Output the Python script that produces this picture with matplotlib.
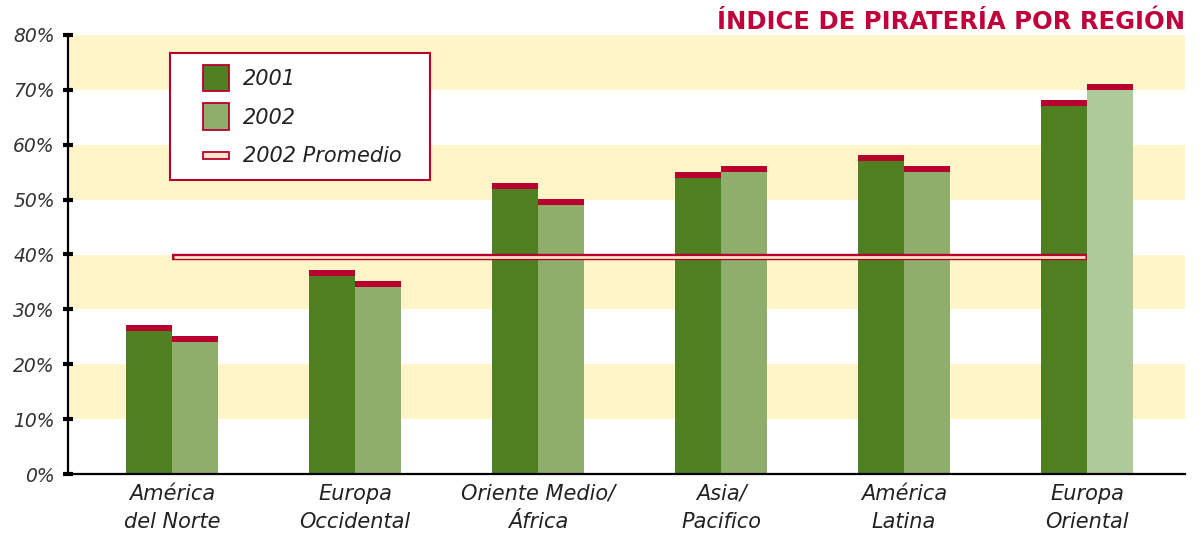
import matplotlib
matplotlib.use("Agg")
import matplotlib.pyplot as plt
import numpy as np
from matplotlib.patches import Rectangle
from matplotlib.lines import Line2D
from matplotlib.legend_handler import HandlerBase

regions = ["América\ndel Norte", "Europa\nOccidental", "Oriente Medio/\nÁfrica",
           "Asia/\nPacifico", "América\nLatina", "Europa\nOriental"]
rate_2001 = [26, 36, 52, 54, 57, 67]
rate_2002 = [24, 34, 49, 55, 55, 70]
avg_2002 = 39.6
yticks = [0, 10, 20, 30, 40, 50, 60, 70, 80]
ytick_labels = ["0%", "10%", "20%", "30%", "40%", "50%", "60%", "70%", "80%"]
title = "ÍNDICE DE PIRATERÍA POR REGIÓN"

DARK = "#4e7f20"
LIGHT = "#8fae6b"
LIGHTER = "#b0c999"
RED = "#b8002f"
BAND = "#fff5c9"
CREAM = "#fbe6c8"
CAP = 1.1

W, H = 1204, 540
fig = plt.figure(figsize=(W/100, H/100), dpi=100)
ax = fig.add_axes([68/W, 66/H, (1185-68)/W, (474-35)/H])
ax.set_xlim(-0.568, 5.535)
ax.set_ylim(0, 80)

for lo in (10, 30, 50, 70):
    ax.axhspan(lo, lo + 10, color=BAND, lw=0, zorder=0)

x = np.arange(len(regions))
w = 0.25
c2002 = [LIGHT] * (len(regions) - 1) + [LIGHTER]
ax.bar(x - w/2, rate_2001, width=w, color=DARK, zorder=2, lw=0)
ax.bar(x + w/2, rate_2002, width=w, color=c2002, zorder=2, lw=0)
ax.bar(x - w/2, [CAP]*len(x), bottom=rate_2001, width=w, color=RED, zorder=2, lw=0)
ax.bar(x + w/2, [CAP]*len(x), bottom=rate_2002, width=w, color=RED, zorder=2, lw=0)

ax.plot([x[0], x[-1]], [avg_2002, avg_2002], color=RED, lw=4.6, solid_capstyle="butt", zorder=3)
ax.plot([x[0] + 0.01, x[-1] - 0.01], [avg_2002, avg_2002], color=CREAM, lw=2.0, solid_capstyle="butt", zorder=4)

for s in ("top", "right"):
    ax.spines[s].set_visible(False)
ax.spines["left"].set_linewidth(1.6)
ax.spines["bottom"].set_linewidth(1.6)

ax.set_yticks(yticks)
ax.set_yticklabels(ytick_labels, fontsize=13.5, style="italic", color="#333333")
ax.tick_params(axis="y", direction="inout", length=7, width=3, pad=6)
ax.set_xticks(x)
ax.set_xticklabels(regions, fontsize=15, style="italic", color="#222222", linespacing=1.5)
ax.tick_params(axis="x", length=0, pad=7)

fig.text(1185/W, 1 - 22/H, title, ha="right", va="center", fontsize=17.5,
         fontweight="bold", color="#c0003a")

# legend frame
fig.patches.append(Rectangle((170/W, 1 - 180/H), 260/W, 127/H, transform=fig.transFigure,
                             facecolor="white", edgecolor=RED, lw=1.5, zorder=5))


class SquareHandler(HandlerBase):
    def __init__(self, color):
        super().__init__()
        self.color = color

    def create_artists(self, legend, orig_handle, xdescent, ydescent, width, height, fontsize, trans):
        s = 19
        r = Rectangle((0, height/2 - s/2), s, s, facecolor=self.color,
                      edgecolor=RED, lw=1.3, transform=trans)
        return [r]


class LineHandler(HandlerBase):
    def create_artists(self, legend, orig_handle, xdescent, ydescent, width, height, fontsize, trans):
        r = Rectangle((0, height/2 - 2.5), 19, 5, facecolor=CREAM,
                      edgecolor=RED, lw=1.3, transform=trans)
        return [r]


h1 = Rectangle((0, 0), 1, 1)
h2 = Rectangle((0, 0), 1, 1)
h3 = Line2D([], [])
leg = fig.legend([h1, h2, h3], ["2001", "2002", "2002 Promedio"],
                 handler_map={h1: SquareHandler(DARK), h2: SquareHandler(LIGHT), h3: LineHandler()},
                 loc="upper left", bbox_to_anchor=(203/W, 1 - 69/H),
                 prop={"size": 15, "style": "italic"}, frameon=False,
                 handlelength=1.27, handletextpad=0.65, labelspacing=0.9,
                 borderpad=0, borderaxespad=0)
for t in leg.get_texts():
    t.set_color("#222222")
leg.set_zorder(6)

fig.savefig("out.png", dpi=100)
